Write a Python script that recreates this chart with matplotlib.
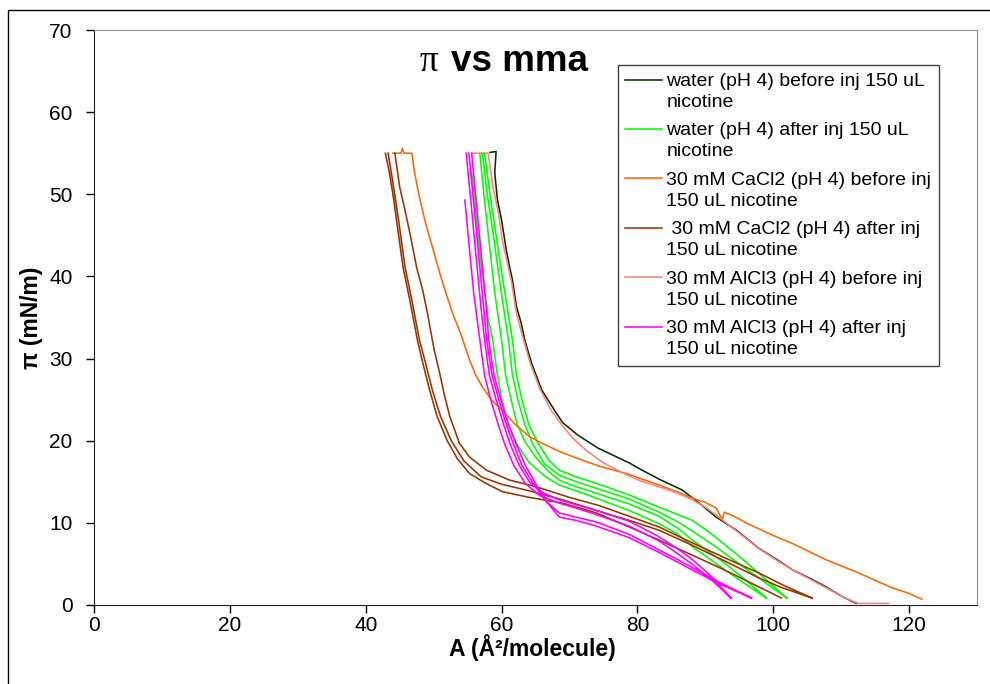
# Surface pressure isotherms, pi vs mma

import matplotlib
matplotlib.use('Agg')
import matplotlib.pyplot as plt
from matplotlib.patches import Rectangle
from matplotlib.lines import Line2D
from matplotlib.legend_handler import HandlerLine2D
import numpy as np

plt.rcParams['font.family'] = ['Liberation Sans', 'DejaVu Sans']

# each series holds one or more compression curves (A in A^2/molecule, pi in mN/m)
water_before_A = [[58.3, 59.2, 59.0, 59.4, 60.0, 60.7, 61.2, 61.6, 62.2, 62.9, 63.4, 64.4, 65.9,
                   67.8, 69.0, 71.2, 74.2, 76.5, 78.8, 80.5, 83.5, 86.6, 89.1, 91.6, 94.6,
                   97.9, 100.6, 102.8, 105.5, 107.8, 110.0, 112.2]]
water_before_pi = [[55.1, 55.2, 52.6, 49.3, 46.9, 43.2, 41.1, 39.6, 36.3, 34.3, 32.3, 29.5, 26.2,
                    23.7, 22.2, 20.7, 19.1, 18.2, 17.3, 16.5, 15.2, 14.0, 12.4, 10.7, 9.1,
                    6.9, 5.5, 4.3, 3.2, 2.2, 1.1, 0.2]]

water_after_A = [[55.6, 56.0, 56.4, 57.2, 58.0, 58.7, 59.3, 60.0, 61.0, 62.3, 64.0, 66.5, 68.5,
                  71.0, 74.0, 78.8, 83.2, 86.0, 88.1, 91.0, 93.0, 96.0, 99.0],
                 [56.8, 57.4, 58.2, 59.0, 60.0, 60.6, 61.4, 62.3, 63.5, 65.2, 67.0, 68.5, 71.0,
                  74.0, 78.8, 83.2, 86.0, 88.1, 91.0, 93.0, 96.0, 99.0],
                 [57.5, 58.3, 59.2, 60.3, 61.6, 62.2, 63.0, 64.0, 65.3, 67.0, 68.5, 71.0, 74.0,
                  78.8, 83.2, 86.0, 88.1, 91.0, 94.0, 97.0, 102.0],
                 [57.2, 57.9, 58.8, 59.8, 61.0, 61.6, 62.4, 63.4, 64.6, 66.3, 68.5, 71.0, 74.0,
                  78.8, 83.2, 86.0, 88.1, 91.0, 94.0, 97.0, 102.0]]
water_after_pi = [[52.7, 50.0, 46.0, 40.0, 35.0, 32.3, 28.5, 25.2, 22.0, 19.5, 17.4, 15.6, 14.6,
                   13.9, 13.0, 11.5, 9.9, 8.6, 7.1, 5.4, 4.2, 2.5, 0.85],
                  [55.0, 50.0, 44.0, 38.0, 32.3, 28.0, 25.0, 22.0, 19.8, 17.8, 16.2, 15.2, 14.4,
                   13.6, 12.3, 10.8, 9.3, 7.9, 6.2, 5.0, 3.0, 0.85],
                  [55.0, 50.0, 45.0, 39.0, 32.3, 28.0, 25.0, 22.0, 19.8, 17.6, 16.4, 15.6, 14.8,
                   13.4, 11.9, 11.0, 10.3, 8.6, 6.6, 4.5, 0.85],
                  [55.0, 50.0, 45.0, 39.0, 32.3, 28.0, 25.0, 22.0, 19.6, 17.2, 15.8, 15.0, 14.2,
                   12.9, 11.3, 10.1, 9.0, 7.4, 5.6, 3.8, 0.85]]

cacl2_before_A = [[44.0, 45.2, 45.4, 45.6, 46.8, 47.2, 47.9, 48.6, 49.4, 50.2, 50.9, 51.8, 52.8,
                   54.0, 55.3, 56.2, 57.2, 58.5, 60.1, 62.0, 64.1, 66.2, 68.5, 71.0, 74.4,
                   78.4, 80.8, 83.2, 85.8, 88.1, 90.0, 91.6, 92.5, 92.8, 94.5, 96.0, 99.9,
                   102.8, 105.3, 107.8, 110.2, 112.6, 115.0, 117.5, 120.0, 121.9]]
cacl2_before_pi = [[55.0, 55.0, 55.6, 55.0, 55.0, 52.6, 49.7, 47.2, 44.8, 42.5, 40.4, 38.0, 35.5,
                    33.0, 29.8, 28.0, 26.5, 25.0, 23.7, 22.0, 20.5, 19.6, 18.7, 17.9, 16.9,
                    16.0, 15.3, 14.6, 13.8, 13.0, 12.5, 11.8, 10.4, 11.3, 10.7, 10.0, 8.5,
                    7.5, 6.5, 5.5, 4.7, 3.9, 3.0, 2.1, 1.4, 0.7]]

cacl2_after_A = [[42.9, 43.5, 44.1, 44.6, 45.5, 46.5, 47.6, 48.4, 49.4, 50.5, 52.0, 53.5, 55.3,
                  57.5, 60.1, 64.1, 69.0, 74.0, 78.8, 83.2, 88.0, 93.0, 97.9, 101.2],
                 [43.3, 43.9, 44.4, 44.9, 45.8, 46.8, 47.9, 48.8, 49.8, 51.0, 52.6, 54.5, 57.0,
                  60.0, 64.1, 69.0, 74.0, 78.8, 83.2, 88.0, 93.0, 97.9, 101.0, 105.7],
                 [44.3, 45.0, 45.8, 46.5, 47.5, 48.4, 49.1, 49.6, 50.1, 50.9, 51.6, 52.4, 53.8,
                  55.3, 57.8, 61.2, 65.1, 70.0, 74.4, 78.8, 83.2, 88.0, 93.0, 97.9, 101.5, 105.7]]
cacl2_after_pi = [[55.0, 52.6, 49.5, 46.5, 41.1, 37.1, 32.3, 29.5, 26.2, 23.0, 20.0, 17.8, 16.0,
                   14.9, 13.8, 13.1, 12.4, 11.2, 9.5, 7.9, 6.1, 4.2, 2.2, 0.85],
                  [55.0, 52.0, 49.3, 46.5, 41.1, 37.1, 32.3, 29.5, 26.2, 23.0, 20.0, 17.5, 15.6,
                   14.7, 13.9, 12.8, 11.5, 10.3, 9.1, 7.3, 5.3, 3.3, 2.2, 0.85],
                  [55.0, 50.9, 48.0, 45.3, 41.1, 38.3, 35.5, 33.2, 31.0, 28.2, 25.5, 22.9, 19.7,
                   18.0, 16.4, 15.2, 14.4, 13.1, 12.1, 10.8, 9.5, 7.6, 5.7, 3.9, 2.4, 0.85]]

alcl3_before_A = [[55.6, 58.0, 58.3, 58.7, 59.6, 60.1, 60.9, 61.5, 62.2, 63.0, 64.2, 65.7, 67.3,
                   68.8, 70.5, 72.5, 75.0, 78.0, 80.5, 83.2, 86.0, 88.1, 90.2, 92.0, 94.6,
                   98.0, 100.6, 103.0, 105.5, 108.0, 110.2, 112.5, 117.0]]
alcl3_before_pi = [[55.0, 55.0, 53.5, 51.0, 47.5, 44.4, 41.5, 39.2, 35.5, 33.0, 29.5, 26.2, 23.7,
                    22.0, 20.3, 18.8, 17.3, 16.0, 15.1, 14.4, 13.6, 12.8, 11.8, 10.7, 9.0,
                    6.8, 5.4, 4.2, 3.1, 2.0, 1.0, 0.2, 0.2]]

alcl3_after_A = [[54.6, 55.2, 55.9, 56.8, 57.5, 58.4, 59.5, 60.5, 61.8, 63.5, 65.5, 68.5, 71.0,
                  74.0, 78.8, 83.2, 86.0, 88.0, 91.0, 93.8],
                 [54.8, 55.5, 56.3, 57.0, 57.5, 58.2, 59.2, 60.3, 61.3, 62.6, 64.1, 66.0, 68.5,
                  71.0, 74.0, 78.8, 83.2, 86.0, 88.0, 91.0, 93.8],
                 [55.6, 56.3, 57.1, 57.8, 58.1, 58.9, 59.9, 61.0, 62.2, 63.5, 65.0, 66.7, 68.5,
                  71.0, 74.0, 78.8, 83.2, 86.0, 88.0, 92.0, 96.8],
                 [55.2, 55.9, 56.7, 57.4, 57.8, 58.6, 59.6, 60.7, 61.8, 63.0, 64.5, 66.3, 68.5,
                  71.0, 74.0, 78.8, 83.2, 86.0, 88.0, 92.0, 96.8]]
alcl3_after_pi = [[49.3, 44.0, 38.0, 32.3, 28.0, 25.0, 22.0, 19.5, 17.0, 14.8, 13.4, 12.4, 11.8,
                   11.0, 9.6, 7.8, 6.2, 5.0, 3.0, 0.85],
                  [55.0, 49.0, 42.0, 36.0, 32.3, 28.0, 25.0, 22.0, 19.5, 17.0, 15.0, 13.7, 12.8,
                   12.2, 11.5, 10.2, 8.3, 6.8, 5.6, 3.4, 0.85],
                  [55.0, 49.0, 42.0, 36.0, 32.3, 28.0, 25.0, 22.0, 19.5, 17.0, 14.8, 12.5, 11.2,
                   10.7, 10.1, 8.6, 6.7, 5.5, 4.6, 2.8, 0.85],
                  [55.0, 49.0, 42.0, 36.0, 32.3, 28.0, 25.0, 22.0, 19.5, 17.0, 15.0, 12.9, 10.7,
                   10.3, 9.6, 8.2, 6.4, 5.2, 4.3, 2.6, 0.85]]

labels = ['water (pH 4) before inj 150 uL\nnicotine',
          'water (pH 4) after inj 150 uL\nnicotine',
          '30 mM CaCl2 (pH 4) before inj\n150 uL nicotine',
          ' 30 mM CaCl2 (pH 4) after inj\n150 uL nicotine',
          '30 mM AlCl3 (pH 4) before inj\n150 uL nicotine',
          '30 mM AlCl3 (pH 4) after inj\n150 uL nicotine']
colors = ['#003300', '#00FF00', '#FF6600', '#993300', '#FF8080', '#FF00FF']

series_A = [water_before_A, water_after_A, cacl2_before_A, cacl2_after_A, alcl3_before_A, alcl3_after_A]
series_pi = [water_before_pi, water_after_pi, cacl2_before_pi, cacl2_after_pi, alcl3_before_pi, alcl3_after_pi]


def join(curves):
    # glue separate curves into one line with gaps between them
    out = []
    for c in curves:
        out += list(c) + [np.nan]
    return np.array(out[:-1])


class FirstLineHandler(HandlerLine2D):
    # put the legend line next to the first text line, like Excel does
    def create_artists(self, legend, orig_handle, xdescent, ydescent, width, height, fontsize, trans):
        arts = super().create_artists(legend, orig_handle, xdescent, ydescent, width, height, fontsize, trans)
        for a in arts:
            a.set_ydata(np.asarray(a.get_ydata()) + 0.62 * fontsize)
        return arts


fig = plt.figure(figsize=(9.9, 6.84), dpi=100)
# outer chart frame
fig.patches.append(Rectangle((8 / 990, -0.1), 1.2, 1 - 10 / 684 + 0.1, transform=fig.transFigure,
                             fill=False, edgecolor='black', linewidth=1.0))

ax = fig.add_axes([94 / 990, 79 / 684, 883 / 990, 575 / 684])

for A, p, lab, col in zip(series_A, series_pi, labels, colors):
    ax.plot(join(A), join(p), color=col, lw=1.15, label=lab)

ax.set_xlim(0, 130)
ax.set_ylim(0, 70)
ax.set_xticks(range(0, 121, 20))
ax.set_yticks(range(0, 71, 10))
ax.tick_params(direction='out', length=5.5, width=1, labelsize=15, colors='black')
ax.tick_params(axis='y', pad=10)
ax.tick_params(axis='x', pad=2.5)

for s in ['left', 'bottom']:
    ax.spines[s].set_color('#202020')
for s in ['top', 'right']:
    ax.spines[s].set_color('#909090')

ax.set_xlabel('A (Å²/molecule)', fontsize=16.5, fontweight='bold')
ax.xaxis.set_label_coords(0.497, -0.05)
ax.set_ylabel('π (mN/m)', fontsize=16.5, fontweight='bold')
ax.yaxis.set_label_coords(-0.058, 0.5)

# title: serif pi then bold sans text
fig.text(420 / 990, 1 - 71 / 684, 'π', fontsize=26.5, family='Liberation Serif', va='baseline', ha='left')
fig.text(451 / 990, 1 - 71 / 684, 'vs mma', fontsize=26.5, fontweight='bold', va='baseline', ha='left')

leg = ax.legend(loc='upper left', bbox_to_anchor=(0.593, 0.939), fontsize=14, frameon=True,
                fancybox=False, edgecolor='#404040', framealpha=1, handlelength=1.9,
                handletextpad=0.2, labelspacing=0.58, borderpad=0.4, borderaxespad=0,
                handler_map={Line2D: FirstLineHandler()})
leg.get_frame().set_linewidth(1.0)
for t in leg.get_texts():
    t.set_linespacing(1.32)

fig.savefig('out.png', dpi=100)
